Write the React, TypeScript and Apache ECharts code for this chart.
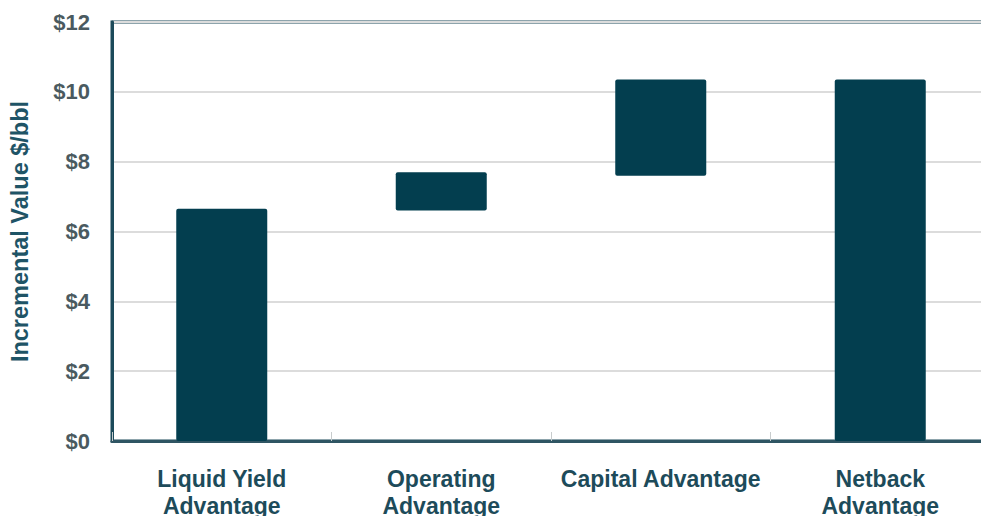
import React, { useEffect, useRef } from "react";
import * as echarts from "echarts";

const categories = ["Liquid Yield\nAdvantage", "Operating\nAdvantage", "Capital Advantage", "Netback\nAdvantage"];
const barBottoms = [0, 6.6, 7.6, 0];
const barTops = [6.65, 7.7, 10.35, 10.35];
const yTicks = [0, 2, 4, 6, 8, 10, 12];

export default function App() {
  const ref = useRef<HTMLDivElement>(null);
  useEffect(() => {
    if (!ref.current) return;
    const chart = echarts.init(ref.current, undefined, { renderer: "svg" });
    const heights = barTops.map((t, i) => +(t - barBottoms[i]).toFixed(2));
    chart.setOption({
      animation: false,
      backgroundColor: "#ffffff",
      grid: {
        left: 112,
        top: 22,
        bottom: 75,
        width: 878,
        outerBoundsMode: "none",
        containLabel: false,
        show: true,
        borderColor: "#1c4a5a",
        borderWidth: 3,
        backgroundColor: "transparent",
      },
      xAxis: {
        type: "category",
        data: categories,
        axisLine: { show: true, lineStyle: { color: "#2f5563", width: 3 } },
        axisTick: { show: true, inside: true, length: 9, lineStyle: { color: "#c8cccd", width: 1 } },
        axisLabel: {
          interval: 0,
          margin: 24,
          fontFamily: "Liberation Sans, Arial, sans-serif",
          fontWeight: "bold",
          fontSize: 23,
          lineHeight: 27,
          color: "#1d4b5a",
        },
      },
      yAxis: {
        type: "value",
        min: 0,
        max: 12,
        interval: 2,
        name: "Incremental Value $/bbl",
        nameLocation: "middle",
        nameGap: 80,
        nameTextStyle: {
          fontFamily: "Liberation Sans, Arial, sans-serif",
          fontWeight: "bold",
          fontSize: 23.5,
          color: "#1f5466",
        },
        axisLine: { show: true, lineStyle: { color: "#1c4a5a", width: 3 } },
        axisTick: { show: false },
        splitLine: { show: true, lineStyle: { color: "#dcdcdc", width: 2 } },
        axisLabel: {
          margin: 22,
          fontFamily: "Liberation Sans, Arial, sans-serif",
          fontWeight: "bold",
          fontSize: 22,
          color: "#4a5a60",
          formatter: (v: number) => (yTicks.includes(v) ? "$" + v : ""),
        },
      },
      series: [
        {
          type: "bar",
          stack: "w",
          data: barBottoms,
          barWidth: 91,
          itemStyle: { color: "transparent" },
          silent: true,
        },
        {
          type: "bar",
          stack: "w",
          data: heights,
          barWidth: 91,
          itemStyle: { color: "#033e4f", borderRadius: 2 },
        },
      ],
    });
    return () => chart.dispose();
  }, []);
  return <div ref={ref} style={{ width: 981, height: 516, position: "absolute", left: 0, top: 0 }} />;
}
